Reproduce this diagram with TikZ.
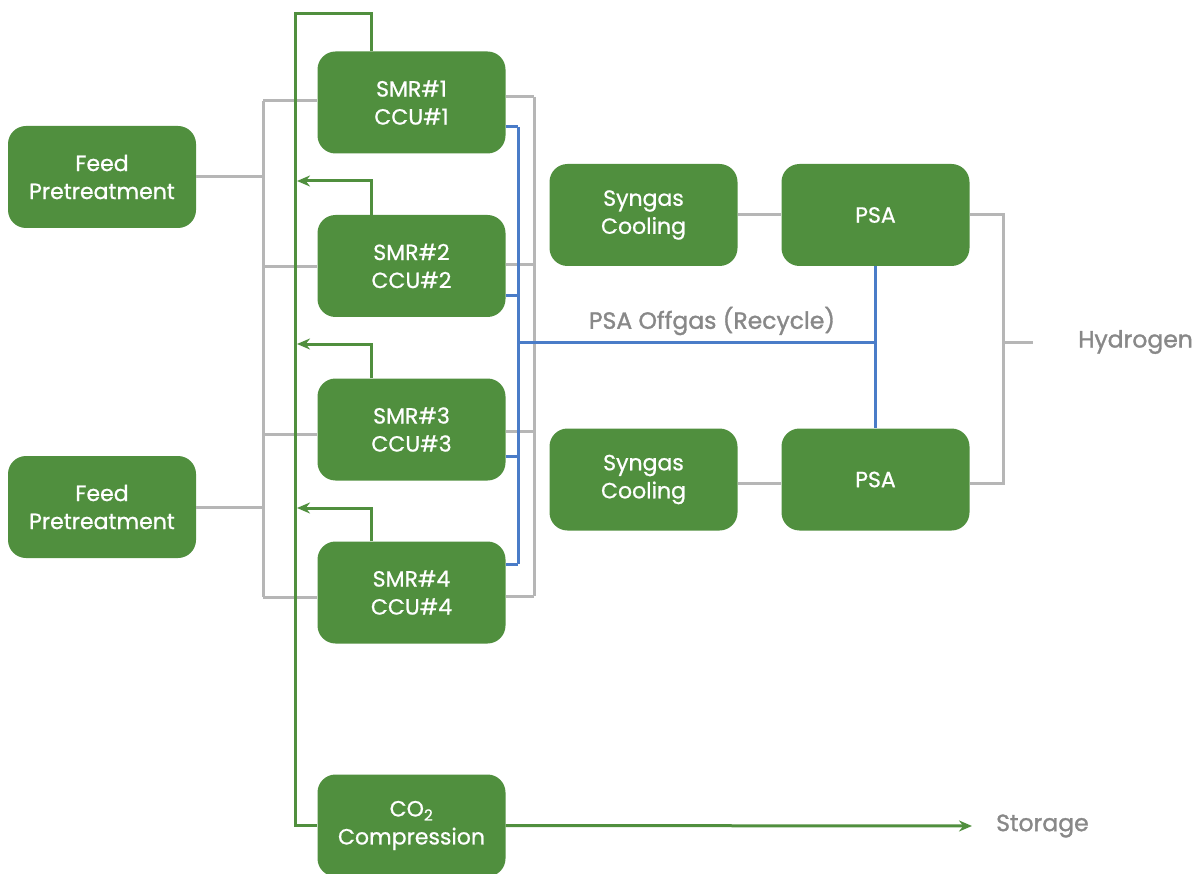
\documentclass[tikz,border=0pt]{standalone}
\usepackage{fontspec}
\setmainfont{Poppins}
\usetikzlibrary{arrows.meta}

\definecolor{unitgreen}{RGB}{80,143,62}
\definecolor{pipegrey}{RGB}{182,182,182}
\definecolor{recycleblue}{RGB}{74,124,200}
\definecolor{labelgrey}{RGB}{136,136,136}

\tikzset{
  unit/.style={rounded corners=18pt, fill=unitgreen, text=white, minimum width=188pt, minimum height=102pt, align=center, inner sep=0pt, font=\fontsize{22}{28}\selectfont\addfontfeatures{FakeBold=0.8}},
  pipe/.style={line width=3pt, color=pipegrey},
  recycle/.style={line width=3pt, color=recycleblue},
  co2line/.style={line width=3pt, color=unitgreen},
  stream/.style={text=labelgrey, inner sep=0pt, font=\fontsize{23.5}{26}\selectfont\addfontfeatures{FakeBold=1.4}},
}

\begin{document}
\begin{tikzpicture}[x=1pt, y=-1pt, line join=miter, >={Stealth[length=13pt,width=11pt]}]
    \useasboundingbox (0,0) rectangle (1201,874);
    % units
    \node[unit] (feedA) at (102,177) {Feed\\Pretreatment};
    \node[unit] (feedB) at (102,507) {Feed\\Pretreatment};
    \node[unit] (smr1) at (411.5,102.5) {SMR\#1\\CCU\#1};
    \node[unit] (smr2) at (411.5,266) {SMR\#2\\CCU\#2};
    \node[unit] (smr3) at (411.5,429.5) {SMR\#3\\CCU\#3};
    \node[unit] (smr4) at (411.5,592.5) {SMR\#4\\CCU\#4};
    \node[unit] (co2) at (411.5,825.5) {CO\textsubscript{2}\\Compression};
    \node[unit] (coolA) at (643.5,215) {Syngas\\Cooling};
    \node[unit] (psaA) at (875.5,215) {PSA};
    \node[unit] (coolB) at (643.5,479.5) {Syngas\\Cooling};
    \node[unit] (psaB) at (875.5,479.5) {PSA};
    \node[stream] (offgas) at (712,321) {PSA Offgas (Recycle)};
    \node[stream, anchor=west] (hydrogen) at (1078,342) {Hydrogen};
    \node[stream, anchor=west] (storage) at (996,826) {Storage};
    % feed headers
    \foreach \i/\y in {1/101, 2/267, 3/434, 4/597} {
      \coordinate (lb\i) at (263,\y);
      \draw[pipe] (lb\i) -- (lb\i -| smr\i.west);
    }
    \draw[pipe] (lb1) -- (lb4);
    \draw[pipe] (feedA.east) -- (feedA.east -| lb1);
    \draw[pipe] (feedB.east) -- (feedB.east -| lb1);
    % syngas header
    \foreach \i/\y in {1/97, 2/265, 3/431, 4/596} {
      \coordinate (rb\i) at (534,\y);
      \draw[pipe] (rb\i -| smr\i.east) -- (rb\i);
    }
    \draw[pipe] (rb1) -- (rb4);
    \draw[pipe] (coolA.east) -- (psaA.west);
    \draw[pipe] ([yshift=-4pt]coolB.east) -- ([yshift=-4pt]psaB.west);
    % hydrogen product
    \coordinate (h2a) at (1003,215);
    \coordinate (h2b) at (1003,483);
    \coordinate (h2tee) at (1003,342);
    \draw[pipe] (psaA.east) -- (h2a) -- (h2b) -- (h2b -| psaB.east);
    \draw[pipe] (h2tee) -- ([xshift=-45pt]hydrogen.west);
    % offgas recycle
    \foreach \i/\y in {1/127, 2/296, 3/456, 4/564} {
      \coordinate (bb\i) at (518,\y);
      \draw[recycle] (bb\i -| smr\i.east) -- (bb\i);
    }
    \draw[recycle] (bb1) -- (bb4);
    \coordinate (offtee) at (518,342);
    \draw[recycle] (offtee) -- (offtee -| psaA.south);
    \draw[recycle] (psaA.south) -- (psaB.north);
    % CO2 collection
    \coordinate (trunktop) at (295,14);
    \draw[co2line] ([xshift=-40pt]smr1.north) |- (trunktop) |- (co2.west);
    \foreach \i/\y in {2/181, 3/344, 4/508} {
      \coordinate (join\i) at (297,\y);
      \draw[co2line, ->] ([xshift=-40pt]smr\i.north) |- (join\i);
    }
    \draw[co2line, ->] (co2.east) -- ([xshift=-24pt]storage.west);
\end{tikzpicture}
\end{document}
